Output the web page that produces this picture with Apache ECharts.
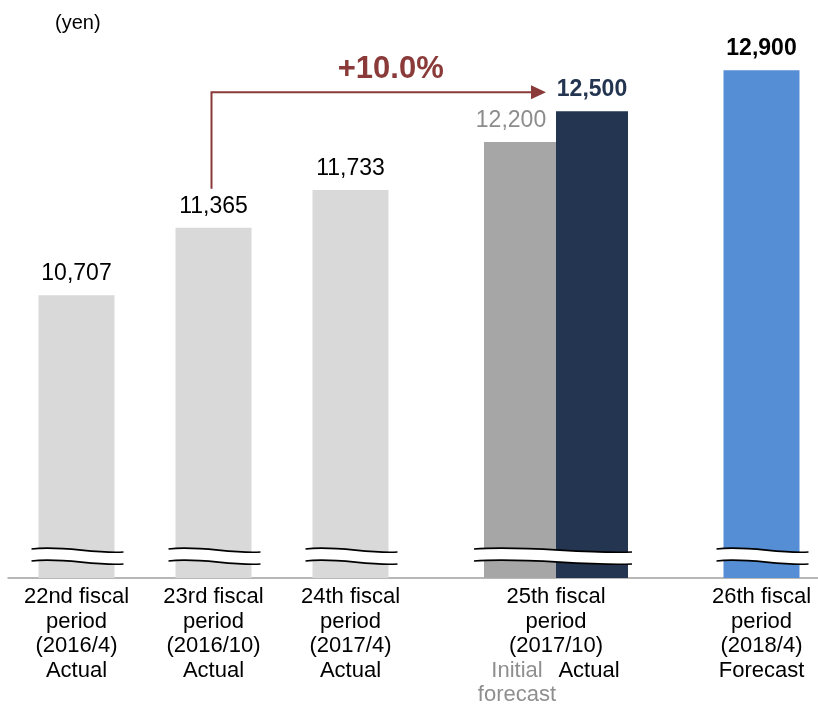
<!DOCTYPE html>
<html>
<head>
<meta charset="utf-8">
<title>Distribution per unit</title>
<script src="https://cdn.jsdelivr.net/npm/echarts@6/dist/echarts.min.js"></script>
<style>
  html, body { margin: 0; padding: 0; background: #ffffff; }
  #chart { width: 818px; height: 709px; }
</style>
</head>
<body>
<div id="chart"></div>
<script>
// Fiscal periods (one slot each; the 25th period has two bars side by side)
const periods = [
  '22nd fiscal\nperiod\n(2016/4)',
  '23rd fiscal\nperiod\n(2016/10)',
  '24th fiscal\nperiod\n(2017/4)',
  '25th fiscal\nperiod\n(2017/10)',
  '25th fiscal\nperiod\n(2017/10)',
  '26th fiscal\nperiod\n(2018/4)'
];
const kinds = ['Actual', 'Actual', 'Actual', 'Initial\nforecast', 'Actual', 'Forecast'];
// Distribution per unit (yen)
const values = [10707, 11365, 11733, 12200, 12500, 12900];
// Growth arrow: 23rd period actual -> 25th period actual
const growthFrom = 1;
const growthTo = 4;
const unitLabel = '(yen)';

const FONT = "'Liberation Sans', Arial, Helvetica, sans-serif";
const Y_MIN = 7950;
const Y_MAX = 13000;
const SINGLE_W = 76;
const PAIR_W = 72;
const LABEL_GAP = 7;
const LINE_H = 24.5;
const ARROW_COLOR = '#8b3a3a';

// Look of each bar and its value label
const looks = [
  { fill: '#d9d9d9', text: '#000000', weight: 'normal', dx: 0 },
  { fill: '#d9d9d9', text: '#000000', weight: 'normal', dx: 0 },
  { fill: '#d9d9d9', text: '#000000', weight: 'normal', dx: 0 },
  { fill: '#a6a6a6', text: '#8c8c8c', weight: 'normal', dx: -9, kindColor: '#8f8f8f' },
  { fill: '#243551', text: '#243551', weight: 'bold', dx: 0 },
  { fill: '#558ed5', text: '#000000', weight: 'bold', dx: 0 }
];

const fmt = v => v.toLocaleString('en-US');
const pairedLeft = i => i + 1 < periods.length && periods[i + 1] === periods[i];
const pairedRight = i => i > 0 && periods[i - 1] === periods[i];

// Horizontal extent of bar i given its slot centre and slot width
function barGeom(i, cx, slot) {
  if (pairedLeft(i)) return { left: cx + slot / 2 - PAIR_W, width: PAIR_W };
  if (pairedRight(i)) return { left: cx - slot / 2, width: PAIR_W };
  return { left: cx - SINGLE_W / 2, width: SINGLE_W };
}

// Wavy "axis break" band drawn across the foot of the bars
function breakMark(x0, x1, yb) {
  const w = x1 - x0;
  const c1 = x0 + w / 3, c2 = x0 + 2 * w / 3;
  const t = [yb - 29, yb - 33, yb - 24, yb - 26];
  const b = t.map(y => y + 12);
  const top = `M${x0} ${t[0]} C${c1} ${t[1]} ${c2} ${t[2]} ${x1} ${t[3]}`;
  const bottom = `M${x0} ${b[0]} C${c1} ${b[1]} ${c2} ${b[2]} ${x1} ${b[3]}`;
  const band = top + ` L${x1} ${b[3]} C${c2} ${b[2]} ${c1} ${b[1]} ${x0} ${b[0]} Z`;
  return [
    { type: 'path', shape: { pathData: band }, style: { fill: '#ffffff', stroke: null } },
    { type: 'path', shape: { pathData: top + ' ' + bottom },
      style: { fill: null, stroke: '#000000', lineWidth: 1.6 } }
  ];
}

function renderBar(params, api) {
  const i = params.dataIndex;
  const v = api.value(1);
  const topPt = api.coord([i, v]);
  const basePt = api.coord([i, Y_MIN]);
  const slot = api.size([1, 0])[0];
  const g = barGeom(i, topPt[0], slot);
  const cx = g.left + g.width / 2;
  const look = looks[i];
  const children = [
    { type: 'rect',
      shape: { x: g.left, y: topPt[1], width: g.width, height: basePt[1] - topPt[1] },
      style: { fill: look.fill } },
    { type: 'text',
      style: { text: fmt(v), x: cx + look.dx, y: topPt[1] - 10, align: 'center', verticalAlign: 'bottom',
               fontFamily: FONT, fontSize: 23, fontWeight: look.weight, fill: look.text } }
  ];
  if (pairedRight(i)) {
    children.push(...breakMark(g.left - PAIR_W - 10, g.left + g.width + 4, basePt[1]));
  } else if (!pairedLeft(i)) {
    children.push(...breakMark(g.left - 7, g.left + g.width + 9, basePt[1]));
  }
  // Category text for the paired period: shared header plus one kind label under each bar
  if (pairedLeft(i)) {
    children.push({ type: 'text',
      style: { text: periods[i], x: topPt[0] + slot / 2, y: basePt[1] + LABEL_GAP, align: 'center',
               verticalAlign: 'top', lineHeight: LINE_H, fontFamily: FONT, fontSize: 22, fill: '#000000' } });
  }
  if (pairedLeft(i) || pairedRight(i)) {
    children.push({ type: 'text',
      style: { text: kinds[i], x: cx - 3, y: basePt[1] + LABEL_GAP + 3 * LINE_H, align: 'center',
               verticalAlign: 'top', lineHeight: LINE_H, fontFamily: FONT, fontSize: 22,
               fill: look.kindColor || '#000000' } });
  }
  return { type: 'group', children };
}

function renderGrowth(params, api) {
  const from = api.value(0), to = api.value(1);
  const slot = api.size([1, 0])[0];
  const fromTop = api.coord([from, values[from]]);
  const toTop = api.coord([to, values[to]]);
  const toGeom = barGeom(to, toTop[0], slot);
  const x0 = fromTop[0] - 2;
  const yLow = fromTop[1] - 39;
  const yArrow = toTop[1] - 19;
  const tip = toGeom.left - 10;
  const pct = '+' + ((values[to] / values[from] - 1) * 100).toFixed(1) + '%';
  return { type: 'group', children: [
    { type: 'polyline', shape: { points: [[x0, yLow], [x0, yArrow], [tip - 14, yArrow]] },
      style: { stroke: ARROW_COLOR, lineWidth: 2, fill: null } },
    { type: 'polygon', shape: { points: [[tip - 15, yArrow - 7], [tip, yArrow], [tip - 15, yArrow + 7]] },
      style: { fill: ARROW_COLOR } },
    { type: 'text',
      style: { text: pct, x: (x0 + tip) / 2 + 12, y: yArrow - 7, align: 'center', verticalAlign: 'bottom',
               fontFamily: FONT, fontSize: 31, fontWeight: 'bold', fill: ARROW_COLOR } }
  ] };
}

const chart = echarts.init(document.getElementById('chart'), null, { renderer: 'canvas' });
chart.setOption({
  animation: false,
  backgroundColor: '#ffffff',
  grid: { left: 8, top: 60, width: 822, height: 518, containLabel: false, outerBoundsMode: 'none' },
  xAxis: {
    type: 'category',
    data: periods.map((p, i) => 'slot' + i),
    boundaryGap: true,
    axisLine: { show: true, lineStyle: { color: '#a0a0a0', width: 1.5 } },
    axisTick: { show: false },
    axisLabel: {
      interval: 0,
      margin: LABEL_GAP,
      fontFamily: FONT,
      fontSize: 22,
      lineHeight: LINE_H,
      color: '#000000',
      hideOverlap: false,
      formatter: (val, idx) => (pairedLeft(idx) || pairedRight(idx)) ? '' : periods[idx] + '\n' + kinds[idx]
    },
    splitLine: { show: false }
  },
  yAxis: {
    type: 'value', min: Y_MIN, max: Y_MAX, show: false, splitLine: { show: false }
  },
  graphic: [
    { type: 'text', left: 55, top: 13,
      style: { text: unitLabel, fontFamily: FONT, fontSize: 20, fill: '#000000' } }
  ],
  series: [
    { type: 'custom', name: 'Distribution per unit', clip: false,
      data: values.map((v, i) => [i, v]), encode: { x: 0, y: 1 }, renderItem: renderBar, z: 2 },
    { type: 'custom', name: 'Growth', clip: false,
      data: [[growthFrom, growthTo]], encode: { x: 0, y: 1 }, renderItem: renderGrowth, z: 3 }
  ]
});
</script>
</body>
</html>
